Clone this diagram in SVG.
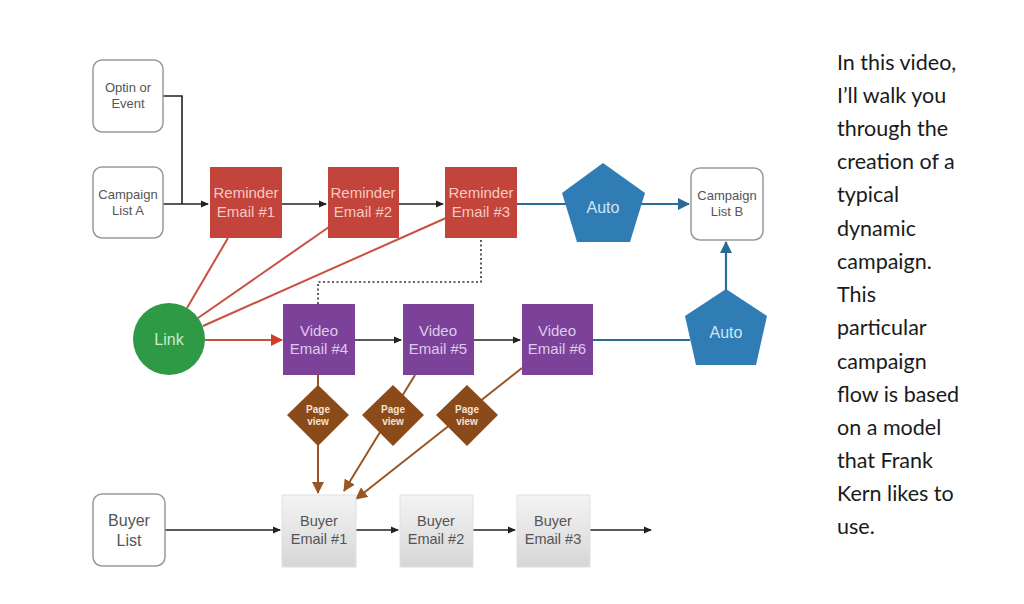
<svg xmlns="http://www.w3.org/2000/svg" width="1024" height="604" viewBox="0 0 1024 604">
<defs>
<style>
.t{font-family:"Liberation Sans",Arial,sans-serif;text-anchor:middle}
.w{fill:#fff;stroke:#9a9a9a;stroke-width:1.5}
.gray{fill:#555;font-size:13px}
.rem{fill:#c2443a}
.remt{fill:#f6c9c2;font-size:15px}
.vid{fill:#7c4199}
.vidt{fill:#dccbeb;font-size:15px}
.blue{fill:#2f7db4}
.bluet{fill:#cfe6f7;font-size:16px}
.pv{fill:#8b4a1a}
.pvt{fill:#f4e3d3;font-size:10px;font-weight:bold}
.buy{fill:url(#g);stroke:#e0e0e0;stroke-width:1}
.buyt{fill:#555;font-size:14.5px}
.k{stroke:#222;stroke-width:1.6;fill:none}
.r{stroke:#c9503f;stroke-width:2;fill:none}
.b{stroke:#2c6b96;stroke-width:2.2;fill:none}
.br{stroke:#9a5522;stroke-width:2;fill:none}
.side{font-family:Lato,"Open Sans",sans-serif;font-size:21.5px;fill:#1a1a1a}
</style>
<linearGradient id="g" x1="0" y1="0" x2="0" y2="1">
<stop offset="0" stop-color="#f4f4f4"/>
<stop offset="1" stop-color="#d6d6d6"/>
</linearGradient>
<marker id="ak" markerWidth="8" markerHeight="8" refX="7" refY="4" orient="auto" markerUnits="userSpaceOnUse"><path d="M0,0.5 L8,4 L0,7.5z" fill="#222"/></marker>
<marker id="ar" markerWidth="12" markerHeight="12" refX="11" refY="6" orient="auto" markerUnits="userSpaceOnUse"><path d="M0,0 L12,6 L0,12z" fill="#d23c2a"/></marker>
<marker id="ab" markerWidth="12" markerHeight="12" refX="11" refY="6" orient="auto" markerUnits="userSpaceOnUse"><path d="M0,0 L12,6 L0,12z" fill="#2c6b96"/></marker>
<marker id="abr" markerWidth="12" markerHeight="12" refX="11" refY="6" orient="auto" markerUnits="userSpaceOnUse"><path d="M0,0 L12,6 L0,12z" fill="#9a5522"/></marker>
</defs>
<rect width="1024" height="604" fill="#fff"/>

<g id="connectors">
<path class="k" d="M163,96 H182 V204"/>
<path class="k" d="M163,204 H208" marker-end="url(#ak)"/>
<path class="k" d="M282,204 H326" marker-end="url(#ak)"/>
<path class="k" d="M399,204 H443" marker-end="url(#ak)"/>
<path class="b" d="M517,204 H570"/>
<path class="b" d="M638,204 H689" marker-end="url(#ab)"/>
<path d="M481,240 V282 H318 V304" stroke="#333" stroke-width="1.6" stroke-dasharray="2,2.5" fill="none"/>
<path class="r" d="M187,308 L228,238"/>
<path class="r" d="M198,318 L329,227"/>
<path class="r" d="M203,326 L446,218"/>
<path class="r" d="M205,340 H282" marker-end="url(#ar)"/>
<path class="k" d="M355,340 H401" marker-end="url(#ak)"/>
<path class="k" d="M474,340 H520" marker-end="url(#ak)"/>
<path class="b" d="M593,340 H690"/>
<path class="b" d="M726,290 V242" marker-end="url(#ab)"/>
<path class="br" d="M318,375 V493" marker-end="url(#abr)"/>
<path class="br" d="M415,375 L344,491" marker-end="url(#abr)"/>
<path class="br" d="M522,368 L356,499" marker-end="url(#abr)"/>
<path class="k" d="M165,530 H280" marker-end="url(#ak)"/>
<path class="k" d="M356,530 H398" marker-end="url(#ak)"/>
<path class="k" d="M473,530 H515" marker-end="url(#ak)"/>
<path class="k" d="M590,530 H651" marker-end="url(#ak)"/>
</g>

<g id="optin"><rect class="w" x="93" y="60" width="70" height="72" rx="9"/>
<text class="t gray" x="128" y="92" font-size="12">Optin or</text><text class="t gray" x="128" y="108" font-size="12">Event</text></g>
<g id="campaignA"><rect class="w" x="93" y="167" width="70" height="71" rx="9"/>
<text class="t gray" x="128" y="199">Campaign</text><text class="t gray" x="128" y="215">List A</text></g>

<g id="reminder1"><rect class="rem" x="210" y="167" width="72" height="71"/>
<text class="t remt" x="246" y="198">Reminder</text><text class="t remt" x="246" y="217">Email #1</text></g>
<g id="reminder2"><rect class="rem" x="328" y="167" width="71" height="71"/>
<text class="t remt" x="363" y="198">Reminder</text><text class="t remt" x="363" y="217">Email #2</text></g>
<g id="reminder3"><rect class="rem" x="445" y="167" width="72" height="71"/>
<text class="t remt" x="481" y="198">Reminder</text><text class="t remt" x="481" y="217">Email #3</text></g>

<g id="auto1"><polygon class="blue" points="603,163 645,193 630,242 577,242 562,193"/>
<text class="t bluet" x="603" y="213">Auto</text></g>
<g id="campaignB"><rect class="w" x="691" y="168" width="72" height="72" rx="9"/>
<text class="t gray" x="727" y="200">Campaign</text><text class="t gray" x="727" y="216">List B</text></g>

<g id="link"><circle cx="169" cy="339" r="36" fill="#2f9a45"/>
<text class="t" x="169" y="345" font-size="16" fill="#c9ecce">Link</text></g>

<g id="video4"><rect class="vid" x="283" y="304" width="72" height="71"/>
<text class="t vidt" x="319" y="336">Video</text><text class="t vidt" x="319" y="354">Email #4</text></g>
<g id="video5"><rect class="vid" x="403" y="304" width="71" height="71"/>
<text class="t vidt" x="438" y="336">Video</text><text class="t vidt" x="438" y="354">Email #5</text></g>
<g id="video6"><rect class="vid" x="522" y="304" width="71" height="71"/>
<text class="t vidt" x="557" y="336">Video</text><text class="t vidt" x="557" y="354">Email #6</text></g>

<g id="auto2"><polygon class="blue" points="726,289 767,316 756,365 696,365 685,316"/>
<text class="t bluet" x="726" y="338">Auto</text></g>

<g id="pv1"><polygon class="pv" points="318,385 349,415 318,446 287,415"/>
<text class="t pvt" x="318" y="413">Page</text><text class="t pvt" x="318" y="425">view</text></g>
<g id="pv2"><polygon class="pv" points="393,385 424,415 393,446 362,415"/>
<text class="t pvt" x="393" y="413">Page</text><text class="t pvt" x="393" y="425">view</text></g>
<g id="pv3"><polygon class="pv" points="467,385 498,415 467,446 436,415"/>
<text class="t pvt" x="467" y="413">Page</text><text class="t pvt" x="467" y="425">view</text></g>

<g id="buyerList"><rect class="w" x="93" y="494" width="72" height="72" rx="9"/>
<text class="t" x="129" y="526" font-size="16" fill="#555">Buyer</text><text class="t" x="129" y="546" font-size="16" fill="#555">List</text></g>
<g id="buyer1"><rect class="buy" x="282" y="495" width="74" height="72"/>
<text class="t buyt" x="319" y="526">Buyer</text><text class="t buyt" x="319" y="544">Email #1</text></g>
<g id="buyer2"><rect class="buy" x="400" y="495" width="73" height="72"/>
<text class="t buyt" x="436" y="526">Buyer</text><text class="t buyt" x="436" y="544">Email #2</text></g>
<g id="buyer3"><rect class="buy" x="517" y="495" width="73" height="72"/>
<text class="t buyt" x="553" y="526">Buyer</text><text class="t buyt" x="553" y="544">Email #3</text></g>

<g id="sidetext">
<text class="side" x="837" y="70">In this video,</text>
<text class="side" x="837" y="103">I’ll walk you</text>
<text class="side" x="837" y="136">through the</text>
<text class="side" x="837" y="169">creation of a</text>
<text class="side" x="837" y="202">typical</text>
<text class="side" x="837" y="236">dynamic</text>
<text class="side" x="837" y="269">campaign.</text>
<text class="side" x="837" y="302">This</text>
<text class="side" x="837" y="335">particular</text>
<text class="side" x="837" y="369">campaign</text>
<text class="side" x="837" y="402">flow is based</text>
<text class="side" x="837" y="435">on a model</text>
<text class="side" x="837" y="468">that Frank</text>
<text class="side" x="837" y="501">Kern likes to</text>
<text class="side" x="837" y="534">use.</text>
</g>
</svg>
